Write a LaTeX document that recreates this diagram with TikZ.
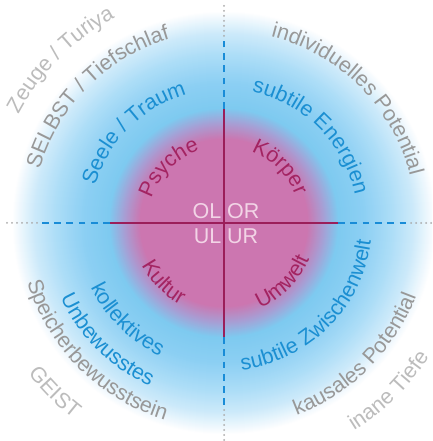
\documentclass[tikz,border=0pt]{standalone}
\usepackage{fontspec}
\newfontfamily\lab{Liberation Sans}
\usetikzlibrary{decorations.text}
\newcommand\labfont{\lab\fontsize{21.5}{26}\selectfont}
\definecolor{pinkT}{RGB}{163,36,98}
\definecolor{blueT}{RGB}{27,143,210}
\definecolor{grayA}{RGB}{152,152,152}
\definecolor{grayB}{RGB}{188,188,188}
\definecolor{lineP}{RGB}{155,30,90}
\definecolor{lineB}{RGB}{25,140,215}
\definecolor{dotG}{RGB}{170,170,170}
\definecolor{ctrT}{RGB}{242,212,230}
\definecolor{g0}{RGB}{204,118,176}
\definecolor{g1}{RGB}{168,158,212}
\definecolor{g2}{RGB}{126,202,240}
\definecolor{g3}{RGB}{140,207,243}
\definecolor{g4}{RGB}{172,221,247}
\definecolor{g5}{RGB}{205,234,250}
\tikzset{
  solidln/.style={draw=lineP, line width=2pt},
  dashln/.style={draw=lineB, line width=2.4pt, dash pattern=on 6.7pt off 5.6pt},
  dotln/.style={draw=dotG, line width=2pt, line cap=round, dash pattern=on 0pt off 5pt},
  ctr/.style={text=ctrT, font=\labfont, inner sep=0pt}
}
\newcommand\uptext[4]{\path[decorate,decoration={text along path,text align=center,text={|\labfont\color{#3}|#4}}] (C) ++({#2+70}:#1pt) arc[start angle={#2+70},end angle={#2-70},radius=#1pt];}
\newcommand\lowtext[4]{\path[decorate,decoration={text along path,text align=center,text={|\labfont\color{#3}|#4}}] (C) ++({#2-70}:#1pt) arc[start angle={#2-70},end angle={#2+70},radius=#1pt];}
\begin{document}
\begin{tikzpicture}[x=1pt,y=1pt]
\useasboundingbox (0,0) rectangle (432,441);
\clip (0,0) rectangle (432,441);
\fill[white] (0,0) rectangle (432,441);
\coordinate (C) at (224,218);
\foreach \r in {212,211,...,1}{%
  \ifnum\r>190 \pgfmathsetmacro\p{(\r-190)/22*100}\colorlet{gc}{white!\p!g5}%
  \else\ifnum\r>168 \pgfmathsetmacro\p{(\r-168)/22*100}\colorlet{gc}{g5!\p!g4}%
  \else\ifnum\r>140 \pgfmathsetmacro\p{(\r-140)/28*100}\colorlet{gc}{g4!\p!g3}%
  \else\ifnum\r>115 \pgfmathsetmacro\p{(\r-115)/25*100}\colorlet{gc}{g3!\p!g2}%
  \else\ifnum\r>100 \pgfmathsetmacro\p{(\r-100)/15*100}\colorlet{gc}{g2!\p!g1}%
  \else\ifnum\r>84 \pgfmathsetmacro\p{(\r-84)/16*100}\colorlet{gc}{g1!\p!g0}%
  \else \colorlet{gc}{g0}\fi\fi\fi\fi\fi\fi
  \fill[gc] (C) circle[radius=\r pt];
}
% axis coordinates
\coordinate (Ls) at (110,218); \coordinate (Ld) at (40,218); \coordinate (Lo) at (7,218);
\coordinate (Rs) at (338,218); \coordinate (Rd) at (408,218); \coordinate (Ro) at (441,218);
\coordinate (Ts) at (224,332); \coordinate (Td) at (224,402); \coordinate (To) at (224,435);
\coordinate (Bs) at (224,104); \coordinate (Bd) at (224,34); \coordinate (Bo) at (224,1);
\draw[dotln] (Lo) -- (Ld);
\draw[dotln] (Ro) -- (Rd);
\draw[dotln] (To) -- (Td);
\draw[dotln] (Bo) -- (Bd);
\draw[dashln] (Ls) -- (Ld);
\draw[dashln] (Rs) -- (Rd);
\draw[dashln] (Ts) -- (Td);
\draw[dashln] (Bs) -- (Bd);
\draw[solidln] (Ls) -- (Rs);
\draw[solidln] (Bs) -- (Ts);
% centre labels
\node[ctr, anchor=base east] (OL) at (221.5,222) {OL};
\node[ctr, anchor=base west] (OR) at (227,222) {OR};
\node[ctr, anchor=base east] (UL) at (221.5,197.5) {UL};
\node[ctr, anchor=base west] (UR) at (227,197.5) {UR};
% upper texts (clockwise)
\uptext{76.5}{135}{pinkT}{Psyche}
\uptext{76.5}{45}{pinkT}{Körper}
\uptext{134}{135}{blueT}{Seele / Traum}
\uptext{134}{45}{blueT}{subtile Energien}
\uptext{192}{135}{grayA}{SELBST / Tiefschlaf}
\uptext{192}{45}{grayA}{individuelles Potential}
\uptext{232.5}{135}{grayB}{Zeuge / Turiya}
% lower texts (counter-clockwise)
\lowtext{92.5}{224.5}{pinkT}{Kultur}
\lowtext{92.5}{315}{pinkT}{Umwelt}
\lowtext{148}{225}{blueT}{kollektives}
\lowtext{179.5}{225}{blueT}{Unbewusstes}
\lowtext{148}{315}{blueT}{subtile Zwischenwelt}
\lowtext{205.5}{225}{grayA}{Speicherbewusstsein}
\lowtext{205.5}{315}{grayA}{kausales Potential}
\lowtext{247}{225}{grayB}{GEIST}
\lowtext{245}{314.5}{grayB}{inane Tiefe}
\end{tikzpicture}
\end{document}
